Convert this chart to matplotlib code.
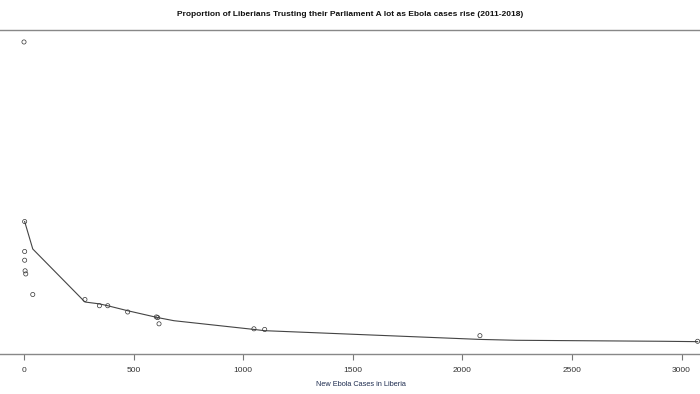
import matplotlib.pyplot as plt

plt.rcParams['font.family'] = ['Liberation Sans', 'DejaVu Sans']

# observed points (new cases, proportion trusting parliament "a lot")
cases = [0, 3, 3, 3, 5, 8, 40, 278, 344, 382, 473, 604, 610, 616, 1049, 1098, 2080, 3073]
trust = [0.500, 0.212, 0.164, 0.150, 0.133, 0.128, 0.095, 0.087, 0.077, 0.077,
         0.067, 0.059, 0.058, 0.048, 0.040, 0.039, 0.029, 0.020]

# fitted curve
fit_x = [3, 40, 278, 344, 382, 473, 610, 684, 1049, 1098, 2080, 2245, 2915, 3073]
fit_y = [0.212, 0.168, 0.083, 0.080, 0.077, 0.069, 0.058, 0.053, 0.039, 0.037,
         0.023, 0.0216, 0.020, 0.0194]

fig = plt.figure(figsize=(7, 3.94), dpi=100)
ax = fig.add_axes([0, 1 - 354 / 394, 1, (354 - 30) / 394])

ax.plot(fit_x, fit_y, color='#444444', lw=0.8, zorder=2)
ax.scatter(cases, trust, s=9, facecolors='none', edgecolors='#333333',
           linewidths=0.5, zorder=3, clip_on=False)

ax.set_xlim(-109.5, 3084)
ax.set_ylim(-0.0004, 0.5192)
ax.set_xticks([0, 500, 1000, 1500, 2000, 2500, 3000])
ax.set_yticks([])
ax.tick_params(axis='x', length=4, width=0.8, color='#777777', pad=5,
               labelsize=6, labelcolor='#333333')

for side in ['left', 'right']:
    ax.spines[side].set_visible(False)
for side in ['top', 'bottom']:
    ax.spines[side].set_color('#888888')
    ax.spines[side].set_linewidth(1.0)

ax.set_xlabel('New Ebola Cases in Liberia', fontsize=5.3, color='#1f2d50')
ax.xaxis.set_label_coords(361 / 700, -(385 - 354) / 324, transform=ax.transAxes)
ax.xaxis.label.set_va('center')
fig.text(0.5, 1 - 14 / 394, 'Proportion of Liberians Trusting their Parliament A lot as Ebola cases rise (2011-2018)',
         ha='center', va='center', fontsize=6.0, fontweight='bold', color='#111111')

fig.savefig('out.png', dpi=100, facecolor='white')
